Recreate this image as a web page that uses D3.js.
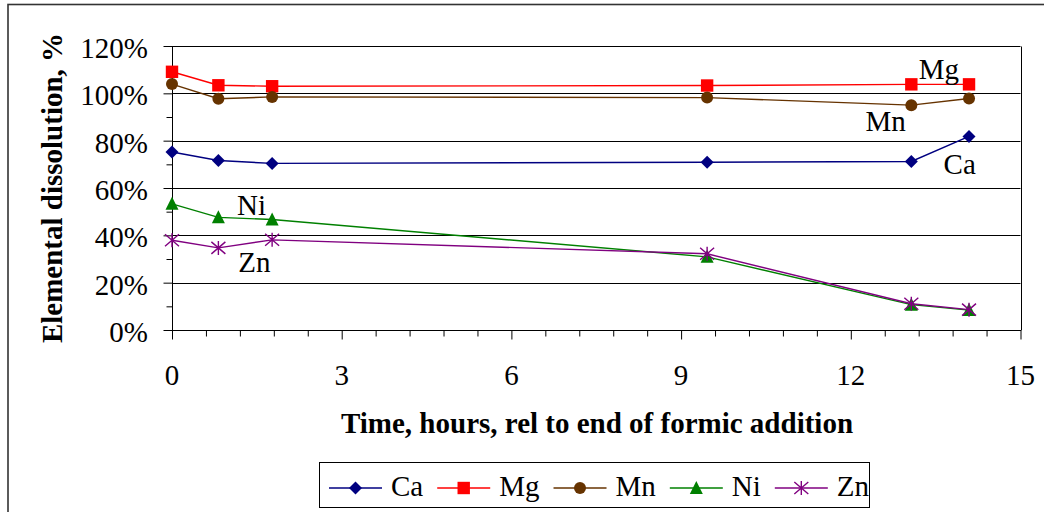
<!DOCTYPE html>
<html>
<head>
<meta charset="utf-8">
<script src="https://cdn.jsdelivr.net/npm/d3@7"></script>
<style>
  html, body { margin: 0; padding: 0; background: #fff; }
  svg { display: block; }
</style>
</head>
<body>
<svg id="chart" width="1044" height="512"></svg>
<script>
// ---- data ----
const hours = [0, 0.82, 1.77, 9.46, 13.07, 14.09];
const seriesNames = ["Ca", "Mg", "Mn", "Ni", "Zn"];
const caValues = [75.2, 71.6, 70.4, 70.9, 71.2, 81.8];
const mgValues = [109.1, 103.4, 103.0, 103.3, 103.8, 103.8];
const mnValues = [103.9, 97.7, 98.5, 98.2, 95.0, 97.8];
const niValues = [53.3, 47.6, 46.7, 30.9, 10.7, 8.4];
const znValues = [37.9, 34.7, 38.1, 32.2, 11.1, 8.6];
const xTickLabels = [0, 3, 6, 9, 12, 15];
const yTickLabels = ["0%", "20%", "40%", "60%", "80%", "100%", "120%"];
// in-plot series labels, anchored in data coordinates (hours, %)
const labelHours = [13.64, 13.2, 12.26, 1.15, 1.17];
const labelValues = [65.9, 106.1, 84.2, 48.8, 24.4];

const seriesValues = [caValues, mgValues, mnValues, niValues, znValues];
const colors = ["#000080", "#FF0000", "#663300", "#008000", "#800080"];
const markers = ["diamond", "square", "circle", "triangle", "star"];

// pick an installed serif font
function pickSerif() {
  const cands = ["Liberation Serif", "Times New Roman", "Tinos", "DejaVu Serif", "Noto Serif",
                 "FreeSerif", "Nimbus Roman", "Nimbus Roman No9 L", "Times", "Georgia"];
  const c = document.createElement("canvas").getContext("2d");
  const s = "Elemental dissolution, %WMgi";
  const w = f => { c.font = "40px " + f; return c.measureText(s).width; };
  const wm = w("monospace");
  for (const f of cands) {
    const a = w(`'${f}', monospace`), b = w(`'${f}', sans-serif`);
    if (Math.abs(a - b) < 0.01 && Math.abs(a - wm) > 0.01) return `'${f}', serif`;
  }
  return "serif";
}
const FAMILY = pickSerif();

const svg = d3.select("#chart").attr("font-family", FAMILY);
const FONT = 29;

// outer chart border (extends past right and bottom edges)
svg.append("rect").attr("x", 8).attr("y", 4.5).attr("width", 1100).attr("height", 600)
  .attr("fill", "none").attr("stroke", "#333").attr("stroke-width", 1.6);

const L = 172, R = 1020.5, T = 46, B = 330;
const x = d3.scaleLinear().domain([0, 15]).range([L, R]);
const y = d3.scaleLinear().domain([0, 120]).range([B, T]);

// gridlines
const g = svg.append("g");
g.selectAll("line.grid").data(d3.range(20, 121, 20)).join("line")
  .attr("x1", L).attr("x2", R)
  .attr("y1", d => Math.round(y(d)) + 0.5).attr("y2", d => Math.round(y(d)) + 0.5)
  .attr("stroke", "#000").attr("stroke-width", 1);
// right border
g.append("line").attr("x1", Math.round(R) + 0.5).attr("x2", Math.round(R) + 0.5)
  .attr("y1", Math.round(T) + 0.5).attr("y2", B + 0.5).attr("stroke", "#000");

// y axis
const yAxisMajor = d3.axisLeft(y).tickValues(d3.range(0, 121, 20)).tickSize(9).tickFormat("");
const yAxisMinor = d3.axisLeft(y).tickValues(d3.range(10, 120, 20)).tickSize(6).tickFormat("");
[yAxisMajor, yAxisMinor].forEach(ax => {
  const a = svg.append("g").attr("transform", `translate(${Math.round(L) + 0.5},0)`).call(ax);
  a.select(".domain").remove();
  a.selectAll("line").attr("stroke", "#000");
});
svg.append("line").attr("x1", Math.round(L) + 0.5).attr("x2", Math.round(L) + 0.5)
  .attr("y1", Math.round(T) + 0.5).attr("y2", B + 0.5).attr("stroke", "#000");
svg.append("g").selectAll("text").data(yTickLabels).join("text")
  .attr("x", 148).attr("y", (d, i) => y(i * 20) + 12)
  .attr("text-anchor", "end").attr("font-size", FONT).attr("fill", "#000")
  .text(d => d);

// x axis
const xAxisMajor = d3.axisBottom(x).tickValues(xTickLabels).tickSize(9).tickFormat("");
const xAxisMinor = d3.axisBottom(x).tickValues(d3.range(0, 15.01, 0.6).filter(v => Math.abs(v / 3 - Math.round(v / 3)) > 1e-6)).tickSize(6).tickFormat("");
[xAxisMajor, xAxisMinor].forEach(ax => {
  const a = svg.append("g").attr("transform", `translate(0,${B + 0.5})`).call(ax);
  a.select(".domain").remove();
  a.selectAll("line").attr("stroke", "#000");
});
svg.append("line").attr("x1", L).attr("x2", R + 0.5).attr("y1", B + 0.5).attr("y2", B + 0.5).attr("stroke", "#000");
svg.append("g").selectAll("text").data(xTickLabels).join("text")
  .attr("x", d => x(d)).attr("y", 385)
  .attr("text-anchor", "middle").attr("font-size", FONT).attr("fill", "#000")
  .text(d => d);

// axis titles
svg.append("text").attr("x", 597).attr("y", 433)
  .attr("text-anchor", "middle").attr("font-size", FONT).attr("font-weight", "bold")
  .text("Time, hours, rel to end of formic addition");
svg.append("text").attr("transform", `translate(62,${(T + B) / 2}) rotate(-90)`)
  .attr("text-anchor", "middle").attr("font-size", FONT).attr("font-weight", "bold")
  .text("Elemental dissolution, %");

// marker drawing
function drawMarker(sel, type, color) {
  if (type === "diamond") {
    sel.append("path").attr("d", "M0,-6.5L6.5,0L0,6.5L-6.5,0Z").attr("fill", color);
  } else if (type === "square") {
    sel.append("rect").attr("x", -6.2).attr("y", -6.2).attr("width", 12.4).attr("height", 12.4).attr("fill", color);
  } else if (type === "circle") {
    sel.append("circle").attr("r", 6).attr("fill", color);
  } else if (type === "triangle") {
    sel.append("path").attr("d", "M0,-7L6.5,6L-6.5,6Z").attr("fill", color);
  } else if (type === "star") {
    sel.append("path").attr("d", "M-7,-6L7,6M-7,6L7,-6M0,-7L0,7")
      .attr("stroke", color).attr("stroke-width", 1.4).attr("fill", "none");
  }
}

// series
const line = d3.line().x((d, i) => x(hours[i])).y(d => y(d));
seriesValues.forEach((vals, s) => {
  const grp = svg.append("g");
  grp.append("path").datum(vals).attr("d", line)
    .attr("fill", "none").attr("stroke", colors[s]).attr("stroke-width", 1.4);
  vals.forEach((v, i) => {
    const m = grp.append("g").attr("transform", `translate(${x(hours[i])},${y(v)})`);
    drawMarker(m, markers[s], colors[s]);
  });
});

// in-plot labels
svg.append("g").selectAll("text").data(seriesNames).join("text")
  .attr("x", (d, i) => x(labelHours[i])).attr("y", (d, i) => y(labelValues[i]))
  .attr("font-size", FONT).attr("fill", "#000").text(d => d);

// legend
const leg = svg.append("g");
leg.append("rect").attr("x", 319.5).attr("y", 462.5).attr("width", 550).attr("height", 45)
  .attr("fill", "#fff").attr("stroke", "#000").attr("stroke-width", 1);
let cx = 329;
seriesNames.forEach((name, s) => {
  const it = leg.append("g");
  it.append("line").attr("x1", cx).attr("x2", cx + 53).attr("y1", 488).attr("y2", 488)
    .attr("stroke", colors[s]).attr("stroke-width", 1.4);
  drawMarker(it.append("g").attr("transform", `translate(${cx + 26.5},488)`), markers[s], colors[s]);
  const t = it.append("text").attr("x", cx + 62).attr("y", 496).attr("font-size", FONT).text(name);
  cx = cx + 62 + t.node().getComputedTextLength() + 14;
});
</script>
</body>
</html>
